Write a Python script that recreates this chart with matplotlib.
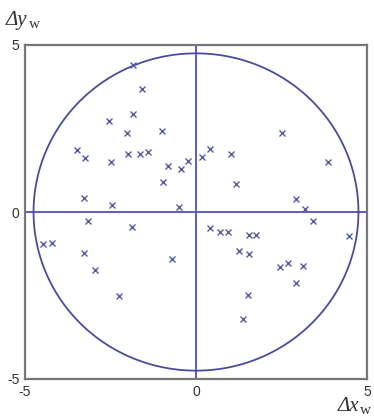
import numpy as np
import matplotlib
matplotlib.use("Agg")
import matplotlib.pyplot as plt

dx = [-1.85, -1.59, -2.54, -1.83, -2.02, -0.99, -3.49, -3.24, -2.49, -1.98,
      -1.64, -1.39, -0.82, -0.44, -0.22, 0.17, 0.41, 1.01, 1.16, 2.51,
      3.85, -0.96, 2.91, 3.19, 3.41, 4.47, -3.27, -2.45, -0.50, -3.15,
      -1.87, -4.47, -4.22, -3.27, -2.95, -2.26, -0.71, 0.41, 0.69, 0.94,
      1.54, 1.76, 1.26, 1.54, 2.45, 2.70, 3.13, 2.92, 1.51, 1.36]
dy = [4.39, 3.68, 2.71, 2.92, 2.36, 2.43, 1.87, 1.63, 1.49, 1.75,
      1.74, 1.80, 1.39, 1.30, 1.54, 1.66, 1.90, 1.75, 0.85, 2.37,
      1.49, 0.89, 0.38, 0.08, -0.26, -0.71, 0.42, 0.21, 0.14, -0.26,
      -0.46, -0.95, -0.92, -1.23, -1.75, -2.51, -1.41, -0.49, -0.61, -0.60,
      -0.70, -0.70, -1.16, -1.25, -1.64, -1.52, -1.63, -2.12, -2.48, -3.21]
radius = 4.75
ticks = [-5, 0, 5]
tick_labels = ['-5', '0', '5']

W, H = 374, 418
fig = plt.figure(figsize=(W / 100, H / 100), dpi=100)
ax = fig.add_axes([25 / W, 39 / H, 342 / W, 334 / H])

line_col = '#5c5cc4'
circ_col = '#4b4b9c'
mark_col = '#5a5a9e'

# Lineas de ejes en cero
ax.axhline(0, color=line_col, lw=1.4, zorder=1)
ax.axvline(0, color=line_col, lw=1.4, zorder=1)

# Circulo
t = np.linspace(0, 2 * np.pi, 400)
ax.plot(radius * np.cos(t), radius * np.sin(t), color=circ_col, lw=1.3, zorder=2)

# Puntos
ax.plot(dx, dy, 'x', color=mark_col, ms=4.5, mew=1.0, zorder=3)

ax.set_xlim(-5, 5)
ax.set_ylim(-5, 5)
ax.set_xticks(ticks)
ax.set_yticks(ticks)
ax.set_xticklabels(tick_labels, family='Liberation Sans', fontsize=10, color='#333333')
ax.set_yticklabels(tick_labels, family='Liberation Sans', fontsize=10, color='#333333')
ax.tick_params(length=0, pad=4)

for s in ax.spines.values():
    s.set_color('#777777')
    s.set_linewidth(1.6)


# Etiqueta tipo "Δy_w": parte en cursiva + subindice recto
def axis_label(x_px, y_px, main, sub, align_right=False):
    renderer = fig.canvas.get_renderer()
    t1 = fig.text(0, 0, main, family='Liberation Serif', style='italic',
                  fontsize=15, color='#333333', va='baseline', ha='left')
    t2 = fig.text(0, 0, sub, family='Liberation Serif', fontsize=11,
                  color='#333333', va='baseline', ha='left')
    w1 = t1.get_window_extent(renderer).width
    w2 = t2.get_window_extent(renderer).width
    x0 = x_px - (w1 + w2 + 1) if align_right else x_px
    t1.set_position((x0 / W, 1 - y_px / H))
    t2.set_position(((x0 + w1 + 1) / W, 1 - (y_px + 3) / H))


axis_label(6, 25, '\u0394y', 'w')
axis_label(371, 411, '\u0394x', 'w', align_right=True)

fig.savefig('out.png', dpi=100)
